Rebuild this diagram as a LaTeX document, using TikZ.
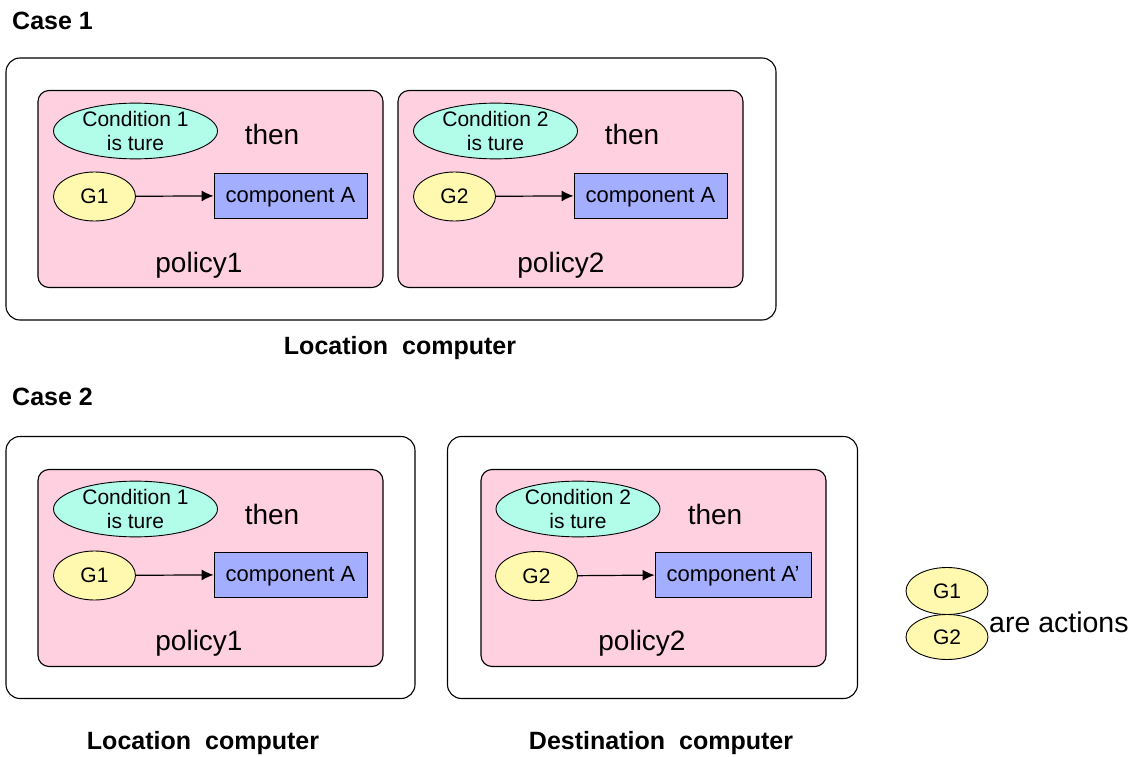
\documentclass[tikz,border=0pt]{standalone}
\usepackage{fontspec}
\setmainfont{Liberation Sans}
\usetikzlibrary{arrows.meta,shapes.geometric}
\definecolor{policypink}{RGB}{255,208,224}
\definecolor{condcyan}{RGB}{178,252,234}
\definecolor{actyellow}{RGB}{255,249,176}
\definecolor{compblue}{RGB}{164,174,255}
\newcommand{\wgap}{\hspace{14pt}}
\begin{document}
\begin{tikzpicture}[x=1pt,y=-1pt,
  frame/.style={draw=black,line width=1.1pt,rounded corners=14pt,
    rectangle,inner sep=0pt,minimum height=262pt},
  policybox/.style={draw=black,line width=1.1pt,rounded corners=11pt,
    fill=policypink,rectangle,inner sep=0pt,minimum width=345pt,minimum height=197pt},
  cond/.style={ellipse,draw,line width=0.9pt,fill=condcyan,minimum width=164pt,
    minimum height=48pt,inner sep=0pt,align=center,
    font=\fontsize{21}{24}\selectfont},
  act/.style={ellipse,draw,line width=0.9pt,fill=actyellow,minimum width=82pt,
    minimum height=49pt,inner sep=0pt,font=\fontsize{21}{24}\selectfont},
  comp/.style={draw,line width=0.9pt,fill=compblue,minimum width=153pt,
    minimum height=45pt,inner sep=0pt,text height=15pt,text depth=1pt,
    font=\fontsize{22}{25}\selectfont},
  bigtext/.style={inner sep=0pt,font=\fontsize{28}{32}\selectfont},
  heading/.style={inner sep=0pt,font=\bfseries\fontsize{25}{29}\selectfont},
  flow/.style={-{Latex[length=12pt,width=11pt]},line width=1.2pt}
]
\path[use as bounding box] (0,0) rectangle (1141,757);

% ---------- Case 1 ----------
\node[heading,anchor=west] (case1) at (12,21) {Case 1};
\node[frame,minimum width=770pt] (outerA) at (391,189) {};

\node[policybox] (polA1) at (210.5,189) {};
\node[cond] (condA1) at (135.5,131) {Condition 1\\is ture};
\node[bigtext] (thenA1) at (272,134) {then};
\node[act] (gA1) at (94.5,196.5) {G1};
\node[comp] (compA1) at (290.5,195.5) {component A};
\node[bigtext] (polA1lbl) at (199,265) {policy1};
\draw[flow] (gA1) -- (compA1);

\node[policybox] (polA2) at (570.5,189) {};
\node[cond] (condA2) at (495.5,131) {Condition 2\\is ture};
\node[bigtext] (thenA2) at (632,134) {then};
\node[act] (gA2) at (454.5,196.5) {G2};
\node[comp] (compA2) at (650.5,195.5) {component A};
\node[bigtext] (polA2lbl) at (561,265) {policy2};
\draw[flow] (gA2) -- (compA2);

\node[heading] (locA) at (400,348.5) {Location\wgap computer};

% ---------- Case 2 ----------
\node[heading,anchor=west] (case2) at (12,397) {Case 2};

\node[frame,minimum width=409pt] (outerB) at (210.5,567.5) {};
\node[policybox] (polB1) at (210.5,568) {};
\node[cond] (condB1) at (135.5,509) {Condition 1\\is ture};
\node[bigtext] (thenB1) at (272,514) {then};
\node[act] (gB1) at (94.5,575.5) {G1};
\node[comp] (compB1) at (290.5,574.5) {component A};
\node[bigtext] (polB1lbl) at (199,643) {policy1};
\draw[flow] (gB1) -- (compB1);

\node[frame,minimum width=410pt] (outerC) at (652.5,567.5) {};
\node[policybox] (polB2) at (653.5,568) {};
\node[cond] (condB2) at (578,509) {Condition 2\\is ture};
\node[bigtext] (thenB2) at (715,514) {then};
\node[act] (gB2) at (536.5,576) {G2};
\node[comp,minimum width=156pt] (compB2) at (733,574.5) {component A’};
\node[bigtext] (polB2lbl) at (642,643) {policy2};
\draw[flow] (gB2) -- (compB2);

\node[heading] (locB) at (203,743.5) {Location\wgap computer};
\node[heading] (destB) at (661,743.5) {Destination\wgap computer};

% ---------- legend ----------
\node[act,minimum height=47pt] (legG1) at (947,591) {G1};
\node[act,minimum height=45pt] (legG2) at (947,637) {G2};
\node[bigtext,anchor=west,font=\fontsize{28.5}{32}\selectfont] (legtxt) at (989,622) {are actions};
\end{tikzpicture}
\end{document}
